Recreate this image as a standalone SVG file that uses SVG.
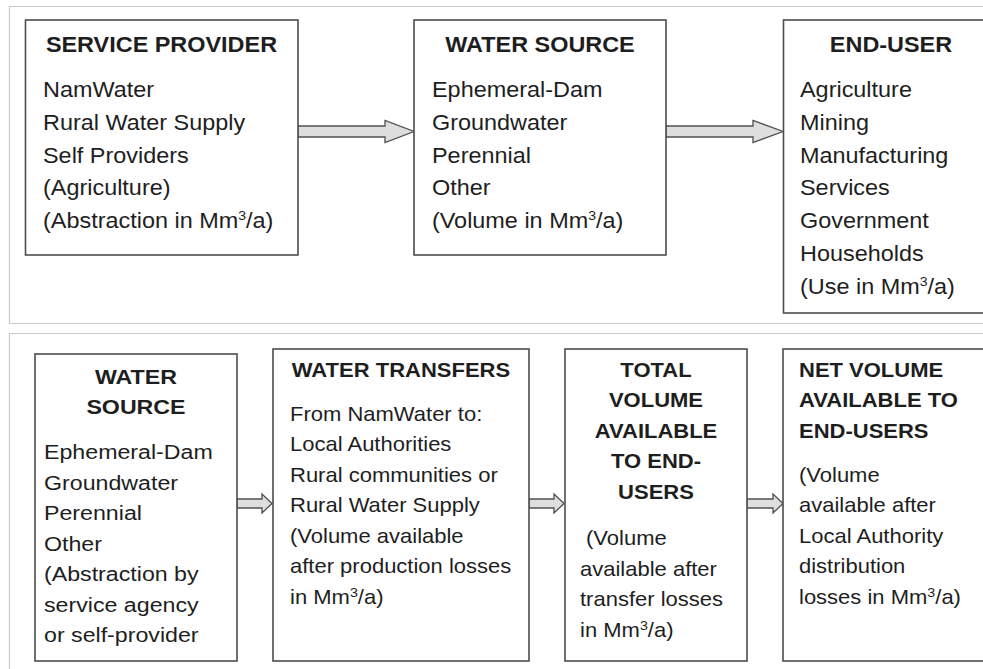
<svg xmlns="http://www.w3.org/2000/svg" width="983" height="669" viewBox="0 0 983 669">
  <style>
    .frame { fill: none; stroke: #c9c9c9; stroke-width: 1.2; }
    .box { fill: #ffffff; stroke: #4d4d4d; stroke-width: 1.6; }
    .arrow { fill: #dedede; stroke: #505050; stroke-width: 1.3; stroke-linejoin: miter; }
    text { font-family: "Liberation Sans", Arial, sans-serif; fill: #1e1e1e; }
    .top text { font-size: 21.5px; }
    .bot text { font-size: 20px; }
    .title { font-weight: bold; }
    .mid { text-anchor: middle; }
    .sup { font-size: 13px; }
  </style>

  <rect width="983" height="669" fill="#ffffff"/>

  <!-- panel frames -->
  <path class="frame" d="M983,6.5 H9.5 V323.5 H983"/>
  <path class="frame" d="M983,333.5 H9.5 V669"/>

  <!-- connectors -->
  <g id="connectors">
    <path class="arrow" d="M298,126 H385 V120.5 L414,131.5 L385,142.5 V137 H298 Z"/>
    <path class="arrow" d="M666,126 H753 V120.5 L783,131.5 L753,142.5 V137 H666 Z"/>
    <path class="arrow" d="M237,499 H262 V494 L272,503.5 L262,513 V508 H237 Z"/>
    <path class="arrow" d="M529,499 H554 V494 L564,503.5 L554,513 V508 H529 Z"/>
    <path class="arrow" d="M747,499 H773 V494 L783,503.5 L773,513 V508 H747 Z"/>
  </g>

  <!-- upper flow: provider -> source -> end-user -->
  <g id="service-provider" class="top">
    <rect class="box" x="25.5" y="20" width="272.5" height="235"/>
    <g transform="translate(43,0) scale(1.09,1)">
      <text class="title mid" x="108.7" y="52">SERVICE PROVIDER</text>
      <text x="0" y="97">NamWater</text>
      <text x="0" y="129.8">Rural Water Supply</text>
      <text x="0" y="162.6">Self Providers</text>
      <text x="0" y="195.4">(Agriculture)</text>
      <text x="0" y="228.2">(Abstraction in Mm<tspan class="sup" dy="-8">3</tspan><tspan dy="8">/a)</tspan></text>
    </g>
  </g>

  <g id="water-source-top" class="top">
    <rect class="box" x="414" y="20" width="252" height="235"/>
    <g transform="translate(432,0) scale(1.09,1)">
      <text class="title mid" x="99.1" y="52">WATER SOURCE</text>
      <text x="0" y="97">Ephemeral-Dam</text>
      <text x="0" y="129.8">Groundwater</text>
      <text x="0" y="162.6">Perennial</text>
      <text x="0" y="195.4">Other</text>
      <text x="0" y="228.2">(Volume in Mm<tspan class="sup" dy="-8">3</tspan><tspan dy="8">/a)</tspan></text>
    </g>
  </g>

  <g id="end-user" class="top">
    <rect class="box" x="783.5" y="20" width="220" height="293"/>
    <g transform="translate(800,0) scale(1.09,1)">
      <text class="title mid" x="83.5" y="52">END-USER</text>
      <text x="0" y="97">Agriculture</text>
      <text x="0" y="129.8">Mining</text>
      <text x="0" y="162.6">Manufacturing</text>
      <text x="0" y="195.4">Services</text>
      <text x="0" y="228.2">Government</text>
      <text x="0" y="261">Households</text>
      <text x="0" y="293.8">(Use in Mm<tspan class="sup" dy="-8">3</tspan><tspan dy="8">/a)</tspan></text>
    </g>
  </g>

  <!-- lower flow: source -> transfers -> total -> net -->
  <g id="water-source-bottom" class="bot">
    <rect class="box" x="35" y="354" width="202" height="307"/>
    <g transform="translate(44,0) scale(1.16,1)">
      <text class="title mid" x="79.3" y="384">WATER</text>
      <text class="title mid" x="79.3" y="414.5">SOURCE</text>
      <text x="0" y="459.5">Ephemeral-Dam</text>
      <text x="0" y="490">Groundwater</text>
      <text x="0" y="520.5">Perennial</text>
      <text x="0" y="551">Other</text>
      <text x="0" y="581.5">(Abstraction by</text>
      <text x="0" y="612">service agency</text>
      <text x="0" y="642.5">or self-provider</text>
    </g>
  </g>

  <g id="water-transfers" class="bot">
    <rect class="box" x="273" y="349" width="256" height="312"/>
    <g transform="translate(290,0) scale(1.1,1)">
      <text class="title mid" x="100.9" y="377">WATER TRANSFERS</text>
      <text x="0" y="421">From NamWater to:</text>
      <text x="0" y="451.5">Local Authorities</text>
      <text x="0" y="482">Rural communities or</text>
      <text x="0" y="512.5">Rural Water Supply</text>
      <text x="0" y="543">(Volume available</text>
      <text x="0" y="573.5">after production losses</text>
      <text x="0" y="604">in Mm<tspan class="sup" dy="-7">3</tspan><tspan dy="7">/a)</tspan></text>
    </g>
  </g>

  <g id="total-volume" class="bot">
    <rect class="box" x="565" y="349" width="182" height="312"/>
    <g transform="translate(580,0) scale(1.1,1)">
      <text class="title mid" x="69.1" y="377">TOTAL</text>
      <text class="title mid" x="69.1" y="407.5">VOLUME</text>
      <text class="title mid" x="69.1" y="438">AVAILABLE</text>
      <text class="title mid" x="69.1" y="468.5">TO END-</text>
      <text class="title mid" x="69.1" y="499">USERS</text>
      <text x="5.5" y="545.5">(Volume</text>
      <text x="0" y="576">available after</text>
      <text x="0" y="606.5">transfer losses</text>
      <text x="0" y="637">in Mm<tspan class="sup" dy="-7">3</tspan><tspan dy="7">/a)</tspan></text>
    </g>
  </g>

  <g id="net-volume" class="bot">
    <rect class="box" x="783" y="349" width="220" height="312"/>
    <g transform="translate(799,0) scale(1.1,1)">
      <text class="title" x="0" y="377">NET VOLUME</text>
      <text class="title" x="0" y="407.5">AVAILABLE TO</text>
      <text class="title" x="0" y="438">END-USERS</text>
      <text x="0" y="482">(Volume</text>
      <text x="0" y="512.5">available after</text>
      <text x="0" y="543">Local Authority</text>
      <text x="0" y="573.5">distribution</text>
      <text x="0" y="604">losses in Mm<tspan class="sup" dy="-7">3</tspan><tspan dy="7">/a)</tspan></text>
    </g>
  </g>
</svg>
